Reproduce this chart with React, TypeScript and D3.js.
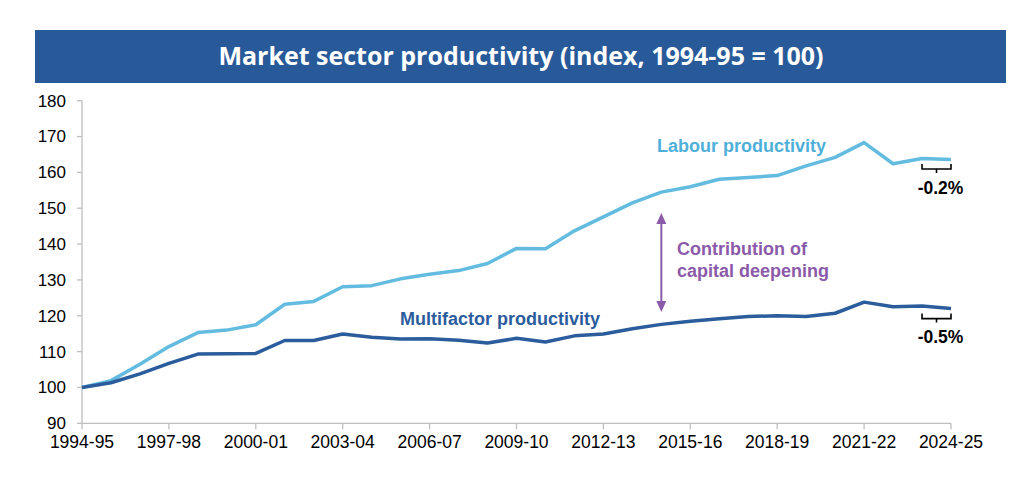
import * as d3 from "d3";
import { useEffect, useRef } from "react";

// financial years on the x axis
const years = [
  "1994-95", "1995-96", "1996-97", "1997-98", "1998-99", "1999-00", "2000-01",
  "2001-02", "2002-03", "2003-04", "2004-05", "2005-06", "2006-07", "2007-08",
  "2008-09", "2009-10", "2010-11", "2011-12", "2012-13", "2013-14", "2014-15",
  "2015-16", "2016-17", "2017-18", "2018-19", "2019-20", "2020-21", "2021-22",
  "2022-23", "2023-24", "2024-25",
];

const labour = [
  100, 101.9, 106.5, 111.4, 115.3, 116.0, 117.5, 123.2, 124.0, 128.1, 128.4,
  130.3, 131.6, 132.6, 134.6, 138.8, 138.7, 143.7, 147.6, 151.5, 154.5, 156.0,
  158.1, 158.6, 159.1, 161.8, 164.2, 168.3, 162.4, 163.9, 163.6,
];

const multifactor = [
  100, 101.3, 103.8, 106.7, 109.3, 109.4, 109.5, 113.1, 113.1, 114.9, 114.0,
  113.5, 113.6, 113.2, 112.4, 113.7, 112.7, 114.4, 114.9, 116.4, 117.6, 118.5,
  119.2, 119.8, 120.0, 119.8, 120.7, 123.8, 122.5, 122.7, 122.0,
];

const xTickLabels = [
  "1994-95", "1997-98", "2000-01", "2003-04", "2006-07", "2009-10",
  "2012-13", "2015-16", "2018-19", "2021-22", "2024-25",
];
const yTicks = [90, 100, 110, 120, 130, 140, 150, 160, 170, 180];

const W = 1032;
const H = 487;
const LIGHT = "#63bce0";
const DARK = "#2b5c9c";
const PURPLE = "#8b5aa8";
const AXIS = "#bfbfbf";
const FONT = "'Liberation Sans', Arial, sans-serif";

export default function App() {
  const ref = useRef<SVGSVGElement>(null);

  useEffect(() => {
    const svg = d3.select(ref.current);
    svg.selectAll("*").remove();

    const x = d3.scalePoint<string>().domain(years).range([82, 951]);
    const y = d3.scaleLinear().domain([90, 180]).range([423.3, 100.7]);

    // title banner
    svg.append("rect").attr("x", 35).attr("y", 30).attr("width", 971).attr("height", 53).attr("fill", "#285a9a");
    svg
      .append("text")
      .attr("x", 521)
      .attr("y", 65)
      .attr("text-anchor", "middle")
      .attr("fill", "#fff")
      .attr("font-family", "'Open Sans', sans-serif")
      .attr("font-weight", 700)
      .attr("font-size", 25)
      .text("Market sector productivity (index, 1994-95 = 100)");

    // y axis
    const yAxis = svg.append("g").attr("transform", "translate(82,0)");
    yAxis.append("line").attr("y1", y(180)).attr("y2", y(90)).attr("stroke", AXIS).attr("stroke-width", 1.3);
    yAxis
      .selectAll("g.tick")
      .data(yTicks)
      .enter()
      .append("g")
      .attr("class", "tick")
      .each(function (d) {
        const g = d3.select(this);
        g.append("line").attr("x1", -5).attr("x2", 0).attr("y1", y(d)).attr("y2", y(d)).attr("stroke", AXIS).attr("stroke-width", 1.3);
        g.append("text")
          .attr("x", -16)
          .attr("y", y(d))
          .attr("dy", "0.35em")
          .attr("text-anchor", "end")
          .attr("font-family", FONT)
          .attr("font-size", 17)
          .attr("fill", "#000")
          .text(d);
      });

    // x axis
    const xAxis = svg.append("g").attr("transform", `translate(0,${y(90)})`);
    xAxis.append("line").attr("x1", x(years[0])!).attr("x2", x(years[years.length - 1])!).attr("stroke", AXIS).attr("stroke-width", 1.3);
    xAxis
      .selectAll("g.tick")
      .data(xTickLabels)
      .enter()
      .append("g")
      .attr("class", "tick")
      .each(function (d) {
        const g = d3.select(this);
        g.append("line").attr("x1", x(d)!).attr("x2", x(d)!).attr("y1", 0).attr("y2", 6).attr("stroke", AXIS).attr("stroke-width", 1.3);
        g.append("text")
          .attr("x", x(d)!)
          .attr("y", 25)
          .attr("text-anchor", "middle")
          .attr("font-family", FONT)
          .attr("font-size", 17.5)
          .attr("fill", "#000")
          .text(d);
      });

    // lines
    const line = d3
      .line<number>()
      .x((_, i) => x(years[i])!)
      .y((d) => y(d));

    svg.append("path").datum(labour).attr("d", line).attr("fill", "none").attr("stroke", LIGHT).attr("stroke-width", 3.5).attr("stroke-linejoin", "round");
    svg.append("path").datum(multifactor).attr("d", line).attr("fill", "none").attr("stroke", DARK).attr("stroke-width", 3.5).attr("stroke-linejoin", "round");

    // series labels
    svg.append("text").attr("x", 657).attr("y", 152).attr("font-family", FONT).attr("font-weight", 700).attr("font-size", 18).attr("fill", "#4eb0d9").text("Labour productivity");
    svg.append("text").attr("x", 400).attr("y", 325).attr("font-family", FONT).attr("font-weight", 700).attr("font-size", 18).attr("fill", DARK).text("Multifactor productivity");

    // capital deepening arrow
    const ax = x("2014-15")!;
    const top = 213;
    const bot = 312;
    svg.append("line").attr("x1", ax).attr("x2", ax).attr("y1", top + 8).attr("y2", bot - 8).attr("stroke", PURPLE).attr("stroke-width", 2);
    svg.append("path").attr("d", `M${ax},${top} L${ax - 5},${top + 11} L${ax + 5},${top + 11} Z`).attr("fill", PURPLE);
    svg.append("path").attr("d", `M${ax},${bot} L${ax - 5},${bot - 11} L${ax + 5},${bot - 11} Z`).attr("fill", PURPLE);
    const ct = svg.append("text").attr("font-family", FONT).attr("font-weight", 700).attr("font-size", 18).attr("fill", PURPLE);
    ct.append("tspan").attr("x", 677).attr("y", 255).text("Contribution of");
    ct.append("tspan").attr("x", 677).attr("y", 277).text("capital deepening");

    // change brackets for the last year
    const bracket = (values: number[], label: string, offset: number, textOffset: number) => {
      const x0 = x(years[years.length - 2])!;
      const x1 = x(years[years.length - 1])!;
      const by = y(values[values.length - 1]) + offset;
      const xm = (x0 + x1) / 2;
      svg
        .append("path")
        .attr("d", `M${x0},${by - 5} L${x0},${by} L${x1},${by} L${x1},${by - 5} M${xm},${by} L${xm},${by + 4}`)
        .attr("fill", "none")
        .attr("stroke", "#000")
        .attr("stroke-width", 1.6);
      svg
        .append("text")
        .attr("x", xm + 4)
        .attr("y", by + textOffset)
        .attr("text-anchor", "middle")
        .attr("font-family", FONT)
        .attr("font-weight", 700)
        .attr("font-size", 17.5)
        .attr("fill", "#000")
        .text(label);
    };
    bracket(labour, "-0.2%", 9.5, 25);
    bracket(multifactor, "-0.5%", 10, 24);
  }, []);

  return (
    <svg
      ref={ref}
      width={W}
      height={H}
      style={{ position: "absolute", left: 0, top: 0, background: "#fff" }}
    />
  );
}
